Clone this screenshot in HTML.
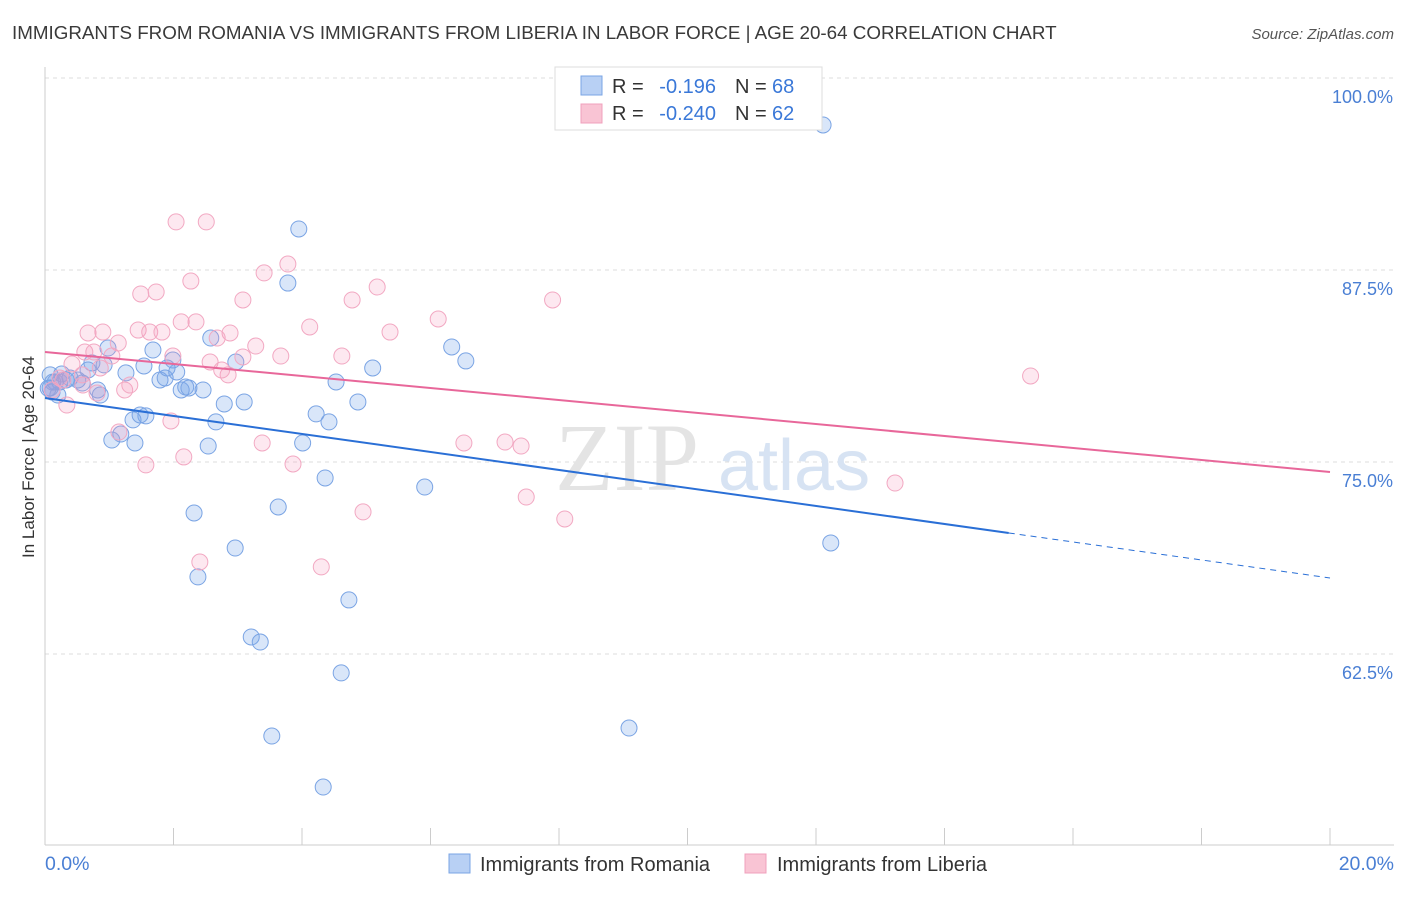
<!DOCTYPE html>
<html><head><meta charset="utf-8"><style>
body{margin:0;background:#fff;font-family:"Liberation Sans",sans-serif;}
</style></head><body>
<svg id="chart" width="1406" height="892" xmlns="http://www.w3.org/2000/svg" style="font-family:'Liberation Sans',sans-serif">
<text x="12" y="39" font-size="18.8" fill="#3a3a3a">IMMIGRANTS FROM ROMANIA VS IMMIGRANTS FROM LIBERIA IN LABOR FORCE | AGE 20-64 CORRELATION CHART</text>
<text x="1394" y="39" font-size="15" fill="#555" font-style="italic" text-anchor="end">Source: ZipAtlas.com</text>
<g id="grid"></g>
<text x="555" y="490" font-size="96" fill="#e4e4e4" font-family="Liberation Serif">ZIP</text>
<text x="718" y="490" font-size="72" fill="#d7e3f3">atlas</text>
<line x1="45" y1="67" x2="45" y2="845" stroke="#ccc"/>
<line x1="45" y1="845" x2="1394" y2="845" stroke="#ccc"/>
<g id="marks"></g>
<text transform="translate(34,457) rotate(-90)" font-size="17" fill="#333" text-anchor="middle">In Labor Force | Age 20-64</text>
<text x="45" y="870" font-size="19.5" fill="#4a7fd4">0.0%</text>
<text x="1394" y="870" font-size="19.5" fill="#4a7fd4" text-anchor="end">20.0%</text>
<g>
<rect x="555" y="67" width="267" height="63" fill="#fff" stroke="#ddd"/>
<rect x="581" y="76" width="21" height="19" fill="#b8d0f4" stroke="#7aa4e4"/>
<rect x="581" y="104" width="21" height="19" fill="#f9c4d4" stroke="#f0a0bc"/>
<text x="612" y="93" font-size="20" fill="#333">R =</text>
<text x="716" y="93" font-size="20" fill="#3a78d8" text-anchor="end">-0.196</text>
<text x="735" y="93" font-size="20" fill="#333">N =</text>
<text x="772" y="93" font-size="20" fill="#3a78d8">68</text>
<text x="612" y="120" font-size="20" fill="#333">R =</text>
<text x="716" y="120" font-size="20" fill="#3a78d8" text-anchor="end">-0.240</text>
<text x="735" y="120" font-size="20" fill="#333">N =</text>
<text x="772" y="120" font-size="20" fill="#3a78d8">62</text>
</g>
<g>
<rect x="449" y="854" width="21" height="19" fill="#b8d0f4" stroke="#7aa4e4"/>
<text x="480" y="871" font-size="20" fill="#333">Immigrants from Romania</text>
<rect x="745" y="854" width="21" height="19" fill="#f9c4d4" stroke="#f0a0bc"/>
<text x="777" y="871" font-size="20" fill="#333">Immigrants from Liberia</text>
</g>
</svg>
<script>
const yTicks=[100,87.5,75,62.5];
const yTickLabels=["100.0%","87.5%","75.0%","62.5%"];
const romaniaX=[12.11,3.95,3.78,6.33,6.55,5.10,4.53,4.87,4.22,4.42,4.01,4.36,5.91,3.63,2.32,2.96,2.38,4.73,3.21,3.35,4.61,3.53,9.09,4.33,12.23,2.58,2.97,1.68,1.99,0.98,0.73,0.92,0.67,0.39,0.51,0.26,0.16,0.08,0.20,0.58,0.86,1.26,1.54,1.79,1.87,1.90,2.05,2.19,2.12,2.46,2.24,2.79,3.10,2.66,2.54,1.57,1.37,1.48,1.04,1.40,1.18,0.82,0.08,0.33,0.23,0.11,0.05,0.12];
const romaniaY=[96.94,90.17,86.65,82.49,81.58,81.12,80.21,78.91,78.13,77.61,76.24,73.96,73.37,72.07,71.68,69.40,67.52,66.02,63.61,63.28,61.27,57.16,57.68,53.84,69.73,83.07,81.51,82.29,81.64,82.42,81.45,81.32,80.99,80.47,80.34,80.73,80.21,79.82,79.36,80.14,79.36,80.80,81.25,80.34,80.47,81.12,80.86,79.88,79.69,79.69,79.82,78.78,78.91,77.61,76.04,78.00,77.74,78.06,76.43,76.24,76.82,79.69,80.67,80.34,80.21,79.56,79.8,80.2];
const liberiaX=[2.04,2.51,3.78,3.41,2.27,5.17,1.49,1.73,3.08,4.78,7.90,6.12,4.12,2.12,2.35,2.88,5.37,0.67,0.90,1.45,1.63,1.82,2.68,1.14,3.28,0.62,1.04,1.99,2.57,3.08,3.67,4.62,0.42,0.86,2.85,2.75,15.34,0.28,0.59,1.24,1.32,0.81,0.34,1.96,1.15,3.38,6.52,7.16,7.41,2.16,1.57,3.86,7.49,4.95,8.09,13.23,2.41,4.30,0.11,0.23,0.58,0.76];
const liberiaY=[90.63,90.63,87.89,87.31,86.78,86.39,85.94,86.07,85.55,85.55,85.55,84.31,83.79,84.12,84.12,83.40,83.46,83.40,83.46,83.59,83.46,83.46,83.07,82.75,82.55,82.16,81.90,81.90,81.51,81.84,81.90,81.90,81.38,81.12,80.67,80.99,80.60,80.34,80.01,79.69,80.01,79.49,78.71,77.67,76.95,76.24,76.24,76.30,76.04,75.33,74.81,74.87,72.72,71.75,71.29,73.63,68.49,68.17,79.69,80.47,80.67,82.16];
const romaniaTrend=[79.17,67.45];
const liberiaTrend=[82.16,74.35];
const NS="http://www.w3.org/2000/svg";
const xs=v=>45+v/20*1285;
const ys=v=>78+(100-v)/12.5*192;
function mk(tag,attrs,parent){const e=document.createElementNS(NS,tag);for(const k in attrs)e.setAttribute(k,attrs[k]);parent.appendChild(e);return e;}
const grid=document.getElementById('grid');
yTicks.forEach((t,i)=>{
 const l=mk('line',{x1:45,x2:1394,y1:ys(t),y2:ys(t),stroke:'#ddd','stroke-dasharray':'4,4'},grid);
 
 
 const tx=mk('text',{x:1393,y:ys(t)+25,'font-size':18,fill:'#4a7fd4','text-anchor':'end'},grid);
 tx.textContent=yTickLabels[i];
 
 
});
for(let i=0;i<=10;i++){
 const t=mk('line',{x1:xs(i*2),x2:xs(i*2),y1:828,y2:845,stroke:'#ccc'},grid);
 
 
}
const marks=document.getElementById('marks');
romaniaX.forEach((x,i)=>{
 const c=mk('circle',{cx:xs(x),cy:ys(romaniaY[i]),r:8,fill:'rgba(120,165,235,0.28)',stroke:'#7aa4e4','stroke-width':1},marks);
 
 
});
liberiaX.forEach((x,i)=>{
 const c=mk('circle',{cx:xs(x),cy:ys(liberiaY[i]),r:8,fill:'rgba(245,150,185,0.22)',stroke:'#f2a8c2','stroke-width':1},marks);
 
 
});
const rAt=x=>romaniaTrend[0]+(romaniaTrend[1]-romaniaTrend[0])*x/20;
const l1=mk('line',{x1:xs(0),y1:ys(rAt(0)),x2:xs(15),y2:ys(rAt(15)),stroke:'#2a6fd6','stroke-width':2},marks);


const l2=mk('line',{x1:xs(15),y1:ys(rAt(15)),x2:xs(20),y2:ys(rAt(20)),stroke:'#2a6fd6','stroke-width':1,'stroke-dasharray':'6,5'},marks);


const l3=mk('line',{x1:xs(0),y1:ys(liberiaTrend[0]),x2:xs(20),y2:ys(liberiaTrend[1]),stroke:'#e8679a','stroke-width':2},marks);


</script>
</body></html>
